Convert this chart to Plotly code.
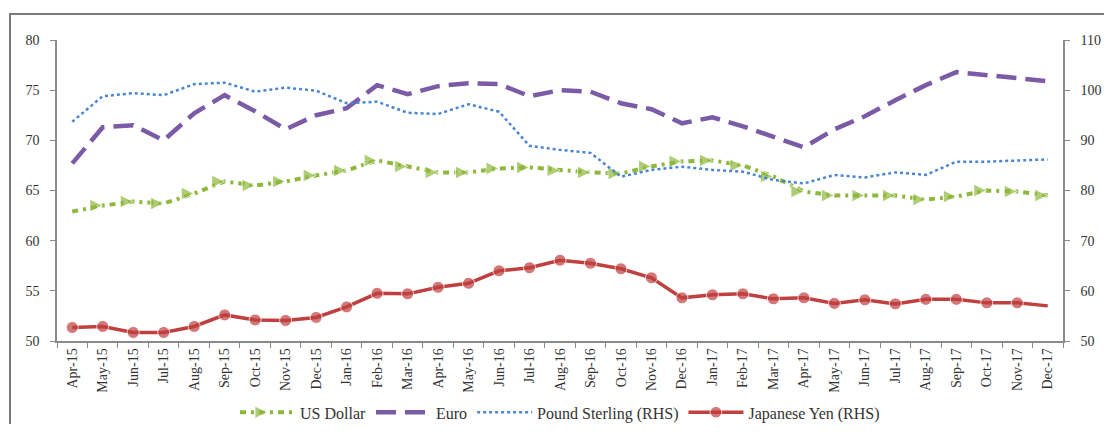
import plotly.graph_objects as go

months = ["Apr-15", "May-15", "Jun-15", "Jul-15", "Aug-15", "Sep-15", "Oct-15", "Nov-15", "Dec-15",
          "Jan-16", "Feb-16", "Mar-16", "Apr-16", "May-16", "Jun-16", "Jul-16", "Aug-16", "Sep-16",
          "Oct-16", "Nov-16", "Dec-16", "Jan-17", "Feb-17", "Mar-17", "Apr-17", "May-17", "Jun-17",
          "Jul-17", "Aug-17", "Sep-17", "Oct-17", "Nov-17", "Dec-17"]

us_dollar = [62.9, 63.5, 63.9, 63.7, 64.7, 65.9, 65.5, 65.9, 66.5, 67.0, 68.0, 67.4, 66.8, 66.8,
             67.2, 67.3, 67.0, 66.8, 66.7, 67.4, 67.9, 68.0, 67.5, 66.4, 64.9, 64.5, 64.5, 64.5,
             64.1, 64.4, 65.0, 64.9, 64.5]

euro = [67.7, 71.3, 71.5, 70.0, 72.7, 74.5, 72.9, 71.1, 72.5, 73.2, 75.5, 74.6, 75.4, 75.7,
        75.6, 74.4, 75.0, 74.85, 73.7, 73.1, 71.7, 72.3, 71.4, 70.4, 69.3, 71.1, 72.4, 74.0,
        75.5, 76.8, 76.5, 76.1, 75.9]

pound_rhs = [93.7, 98.8, 99.4, 99.0, 101.2, 101.5, 99.7, 100.5, 99.9, 97.4, 97.7, 95.5, 95.25,
             97.2, 95.7, 88.9, 88.1, 87.5, 82.75, 84.1, 84.75, 84.1, 83.75, 82.1, 81.4, 83.1,
             82.6, 83.6, 83.1, 85.75, 85.75, 85.95, 86.2]

yen_rhs = [52.7, 52.9, 51.7, 51.7, 52.9, 55.2, 54.2, 54.1, 54.7, 56.8, 59.5, 59.4, 60.7, 61.5,
           64.0, 64.6, 66.1, 65.5, 64.4, 62.6, 58.6, 59.2, 59.4, 58.4, 58.6, 57.5, 58.2, 57.4,
           58.3, 58.3, 57.6, 57.6, 57.0]

left_ticks = [50, 55, 60, 65, 70, 75, 80]
right_ticks = [50, 60, 70, 80, 90, 100, 110]

GREEN = "#8DB83C"
PURPLE = "#7B5AA6"
BLUE = "#4A86D0"
RED = "#C0403F"
FONT = "'Liberation Serif', 'Times New Roman', 'DejaVu Serif', serif"
TXT = "#333333"

n = len(months)
usd_sizes = [0] + [13] * (n - 1)
yen_sizes = [12] * (n - 1) + [0]

fig = go.Figure()
fig.add_trace(go.Scatter(
    x=months, y=us_dollar, name="US Dollar", mode="lines+markers",
    line=dict(color=GREEN, width=4, dash="6px,5px,3px,5px"),
    marker=dict(symbol="arrow-right", size=usd_sizes, color=GREEN),
))
fig.add_trace(go.Scatter(
    x=months, y=euro, name="Euro", mode="lines",
    line=dict(color=PURPLE, width=4.5, dash="20px,9px"),
))
fig.add_trace(go.Scatter(
    x=months, y=pound_rhs, name="Pound Sterling (RHS)", mode="lines", yaxis="y2",
    line=dict(color=BLUE, width=2.5, dash="dot"),
))
fig.add_trace(go.Scatter(
    x=months, y=yen_rhs, name="Japanese Yen (RHS)", mode="lines+markers", yaxis="y2",
    line=dict(color=RED, width=3.5),
    marker=dict(symbol="circle", size=yen_sizes, color=RED),
))

axis_color = "#8a8a8a"
fig.update_layout(
    width=1096, height=416,
    margin=dict(l=49, r=41, t=32, b=83),
    paper_bgcolor="white", plot_bgcolor="white",
    font=dict(family=FONT, size=14, color=TXT),
    showlegend=True,
    legend=dict(orientation="h", x=0.5, xanchor="center", yref="container",
                y=0.028, yanchor="middle",
                font=dict(family=FONT, size=16, color=TXT), itemwidth=55,
                tracegroupgap=0, bgcolor="rgba(0,0,0,0)"),
    xaxis=dict(type="category", categoryorder="array", categoryarray=months,
               showgrid=False, showline=True, linecolor=axis_color, linewidth=1.5,
               ticks="outside", ticklen=5, tickcolor=axis_color, tickson="boundaries",
               tickangle=-90, tickfont=dict(family=FONT, size=14, color=TXT),
               range=[-0.5, n - 0.5], zeroline=False, automargin=False),
    yaxis=dict(range=[50, 80], tickvals=left_ticks, showgrid=False, showline=True,
               linecolor=axis_color, linewidth=1.5, ticks="outside", ticklen=5,
               tickcolor=axis_color, ticklabelstandoff=8, zeroline=False, automargin=False,
               tickfont=dict(family=FONT, size=14, color=TXT)),
    yaxis2=dict(range=[50, 110], tickvals=right_ticks, overlaying="y", side="right",
                showgrid=False, showline=True, linecolor=axis_color, linewidth=1.5,
                ticks="outside", ticklen=5, tickcolor=axis_color, ticklabelstandoff=8,
                zeroline=False, automargin=False, tickfont=dict(family=FONT, size=14, color=TXT)),
    shapes=[dict(type="rect", xref="paper", yref="paper",
                 x0=-0.0467, x1=1.08, y0=-0.4, y1=1.0864,
                 line=dict(color="#7a7a7a", width=2), fillcolor="rgba(0,0,0,0)", layer="below")],
)

fig.write_html("out.html")
